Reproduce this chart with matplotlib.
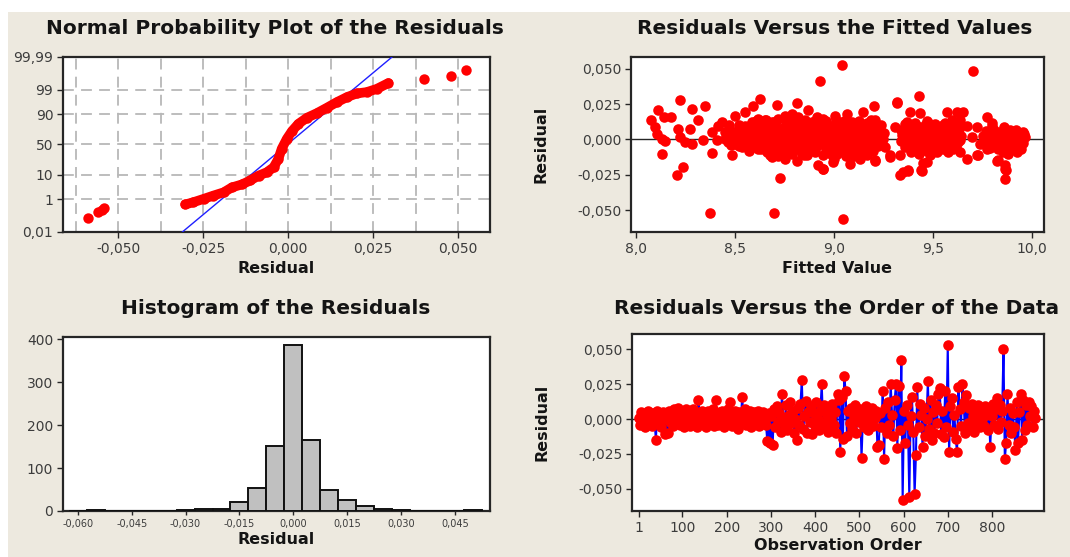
import math
import numpy as np
import matplotlib
matplotlib.use("Agg")
import matplotlib.pyplot as plt
from matplotlib import ticker
from matplotlib.patches import Rectangle

# ---------------------------------------------------------------- data
# Normal probability plot: ordered residuals and plotting percentiles
npp_residual = [-0.0303, -0.0279, -0.0249, -0.0220, -0.0190, -0.0166, -0.0136,
                -0.0112, -0.0087, -0.0063, -0.0043, -0.0029, -0.0019, -0.0004,
                0.0011, 0.0030, 0.0055, 0.0084, 0.0114, 0.0143, 0.0173, 0.0202,
                0.0231, 0.0261, 0.0295]
npp_percent = [0.54, 0.71, 1.04, 1.5, 2.1, 3.4, 4.5, 6.3, 9.3, 11.9, 16.6, 27.0,
               43.0, 59.6, 71.5, 81.0, 87.2, 90.8, 94.1, 96.4, 97.8, 98.5, 98.7,
               99.1, 99.55]
npp_tail_residual = [-0.0589, -0.0559, -0.0547, -0.0541, 0.0400, 0.0479, 0.0523]
npp_tail_percent = [0.094, 0.22, 0.28, 0.33, 99.72, 99.81, 99.92]
fit_mean = -0.0003
fit_sd = 0.0083

# Residuals versus fitted values
fitted_value = [
    8.076, 8.110, 8.143, 8.177, 8.096, 8.104, 8.130, 8.147, 8.222, 8.281,
    8.349, 8.315, 8.273, 8.214, 8.222, 8.248, 8.281, 8.340, 8.383, 8.416,
    8.433, 8.130, 8.239, 8.206, 8.383, 8.484, 8.374, 8.699, 8.728, 8.930,
    8.627, 8.711, 8.812, 8.871, 8.913, 8.593, 8.551, 8.500, 8.450, 8.408,
    8.467, 8.517, 8.551, 8.585, 8.618, 8.652, 8.686, 8.720, 8.753, 8.787,
    8.821, 8.854, 8.888, 8.922, 8.939, 8.939, 8.939, 8.905, 8.863, 8.812,
    8.753, 8.686, 8.661, 8.618, 8.585, 8.534, 8.500, 8.450, 8.652, 8.703,
    8.753, 8.804, 8.854, 8.888, 8.669, 8.736, 8.787, 8.838, 8.888, 8.922,
    8.947, 8.736, 8.821, 8.871, 8.635, 8.602, 8.551,
    8.62, 8.67, 8.72, 8.77, 8.82, 8.87, 8.91, 8.64, 8.69, 8.74, 8.79, 8.84,
    8.90, 8.93, 8.57, 8.52, 8.47,
    9.040, 9.702, 9.048, 9.321, 9.431, 9.205, 8.947, 9.006, 9.065, 9.149,
    9.208, 8.964, 9.031, 9.099, 9.166, 9.234, 8.981, 9.048, 9.116, 9.183,
    9.251, 8.964, 9.031, 9.099, 9.166, 9.225, 8.947, 9.014, 9.082, 9.149,
    8.947, 8.998, 9.082, 9.133, 9.208, 9.284, 9.335, 9.309, 9.368, 9.385,
    9.436, 9.419, 9.487, 9.537, 9.351, 9.419, 9.487, 9.554, 9.605, 9.368,
    9.436, 9.503, 9.571, 9.638, 9.351, 9.377, 9.444, 9.469, 9.487, 9.571,
    9.621, 9.655, 9.596, 9.638, 9.672, 9.723, 9.773, 9.798, 9.840, 9.891,
    9.924, 9.756, 9.807, 9.874, 9.908, 9.697, 9.739, 9.638, 9.672, 9.723,
    9.773, 9.823, 9.864, 9.864, 9.924, 9.891, 9.605, 9.554, 9.520,
    8.97, 9.02, 9.07, 9.12, 9.17, 9.22, 9.00, 9.05, 9.10, 9.15, 9.20, 9.24,
    9.26, 9.36, 9.40, 9.45, 9.50, 9.55, 9.60, 9.63, 9.38, 9.43, 9.47, 9.52,
    9.58, 9.78, 9.82, 9.86, 9.90, 9.94, 9.96, 9.80, 9.88,
    9.857, 9.907, 9.949, 9.958, 9.890, 9.857, 9.924, 9.831, 9.865, 9.873,
    9.730, 9.335, 9.376, 9.440, 9.453, 9.285, 9.208, 9.318,
    # dense band 8.60 - 8.95
    8.605, 8.66, 8.70, 8.76, 8.80, 8.86, 8.905,
    8.615, 8.645, 8.68, 8.71, 8.745, 8.78, 8.815, 8.85, 8.88, 8.92,
    8.60, 8.64, 8.675, 8.705, 8.74, 8.775, 8.81, 8.845, 8.87, 8.91, 8.945,
    8.61, 8.64, 8.68, 8.715, 8.75, 8.785, 8.82, 8.855, 8.895, 8.93,
    8.605, 8.645, 8.68, 8.72, 8.755, 8.79, 8.83, 8.865, 8.90,
    8.63, 8.67, 8.71, 8.745, 8.78, 8.82, 8.86, 8.895,
    8.68, 8.72, 8.79, 8.85,
    # dense band 8.95 - 9.26
    8.96, 9.01, 9.09, 9.13, 9.19,
    8.955, 8.99, 9.035, 9.07, 9.11, 9.145, 9.18, 9.215,
    8.965, 9.00, 9.04, 9.075, 9.11, 9.15, 9.19, 9.23, 9.255,
    8.955, 8.995, 9.03, 9.065, 9.10, 9.135, 9.17, 9.205, 9.24,
    8.97, 9.005, 9.04, 9.08, 9.115, 9.155, 9.19, 9.23,
    8.96, 9.00, 9.04, 9.07, 9.11, 9.15, 9.19,
    8.99, 9.06, 9.12, 9.17,
    # dense band 9.33 - 9.65
    9.36, 9.41, 9.46, 9.51, 9.56, 9.60,
    9.34, 9.38, 9.42, 9.455, 9.49, 9.525, 9.56, 9.60, 9.635,
    9.345, 9.385, 9.425, 9.46, 9.50, 9.535, 9.57, 9.61, 9.645,
    9.34, 9.375, 9.41, 9.45, 9.485, 9.52, 9.555, 9.59, 9.63,
    9.36, 9.40, 9.44, 9.475, 9.51, 9.545, 9.585, 9.62,
    9.39, 9.43, 9.47, 9.50,
    # dense band 9.75 - 9.97
    9.77, 9.81, 9.85, 9.885, 9.92, 9.955,
    9.76, 9.795, 9.83, 9.865, 9.90, 9.935, 9.965,
    9.77, 9.81, 9.845, 9.88, 9.915, 9.95,
    9.79, 9.83, 9.87, 9.91, 9.945,
    # band 8.45 - 8.60
    8.47, 8.52, 8.57, 8.46, 8.50, 8.54, 8.58, 8.455, 8.49, 8.53, 8.57,
    8.48, 8.52, 8.56]
fitted_residual = [
    0.0135, 0.0206, 0.0158, 0.0158, 0.0087, 0.0040, 0.0005, -0.0014, 0.0277, 0.0217,
    0.0241, 0.0135, 0.0076, 0.0076, 0.0017, -0.0019, -0.0031, -0.0007, 0.0052, 0.0099,
    0.0123, -0.0102, -0.0196, -0.0251, -0.0095, -0.0109, -0.0522, -0.0522, -0.0274, 0.0418,
    0.0288, 0.0246, 0.0260, 0.0206, 0.0158, 0.0241, 0.0194, 0.0170, 0.0052, -0.0007,
    -0.0019, 0.0028, 0.0099, 0.0123, 0.0147, 0.0135, 0.0123, 0.0147, 0.0170, 0.0182,
    0.0158, 0.0135, 0.0123, 0.0111, 0.0087, 0.0028, -0.0031, -0.0090, -0.0113, -0.0149,
    -0.0137, -0.0125, -0.0090, -0.0066, -0.0054, -0.0054, -0.0031, 0.0005, 0.0005, 0.0028,
    0.0017, 0.0005, 0.0028, 0.0005, 0.0064, 0.0076, 0.0087, 0.0076, 0.0064, -0.0184,
    -0.0208, -0.0019, -0.0054, -0.0066, 0.0052, 0.0028, 0.0005,
    -0.002, -0.004, 0.004, -0.007, 0.011, 0.009, -0.005, 0.010, 0.000, -0.010, 0.005, -0.010,
    0.004, 0.013, -0.008, 0.007, 0.008,
    0.0530, 0.0489, -0.0563, 0.0260, 0.0305, 0.0241, 0.0147, 0.0170, 0.0182, 0.0194,
    0.0135, 0.0052, 0.0087, 0.0099, 0.0087, 0.0064, 0.0005, 0.0017, 0.0028, 0.0017,
    0.0005, -0.0043, -0.0054, -0.0043, -0.0031, -0.0043, -0.0113, -0.0102, -0.0090, -0.0102,
    -0.0208, -0.0161, -0.0173, -0.0137, -0.0156, -0.0113, -0.0113, 0.0087, 0.0123, 0.0194,
    0.0189, 0.0099, 0.0111, 0.0087, 0.0028, 0.0017, 0.0028, 0.0040, 0.0052, -0.0043,
    -0.0043, -0.0031, -0.0019, -0.0007, -0.0232, -0.0220, -0.0220, -0.0161, -0.0113, 0.0194,
    0.0194, 0.0194, 0.0135, 0.0135, 0.0099, 0.0087, 0.0158, 0.0099, 0.0052, 0.0064,
    0.0028, 0.0028, 0.0005, -0.0019, -0.0043, 0.0017, -0.0031, -0.0090, -0.0137, -0.0113,
    -0.0066, -0.0149, -0.0208, -0.0279, -0.0090, -0.0066, -0.0066, -0.0066, -0.0090,
    0.010, -0.002, 0.006, -0.007, 0.012, -0.001, -0.014, 0.013, -0.012, 0.004, -0.008, 0.010,
    -0.005, 0.007, -0.007, 0.006, -0.006, 0.010, -0.002, 0.008, -0.001, -0.010, 0.013, 0.001,
    -0.009, 0.002, -0.003, 0.009, 0.001, -0.006, 0.004, 0.012, -0.010,
    0.0055, 0.0031, 0.0007, -0.0028, -0.0040, -0.0087, -0.0064, -0.0147, -0.0182, -0.0218,
    -0.0110, -0.0253, -0.0218, -0.0218, -0.0170, -0.0123, -0.0147, 0.0265,
    # dense band 8.60 - 8.95
    0.0130, 0.0135, 0.0125, 0.0130, 0.0140, 0.0125, 0.0130,
    0.0090, 0.0085, 0.0095, 0.0090, 0.0085, 0.0095, 0.0090, 0.0085, 0.0095, 0.0090,
    0.0050, 0.0055, 0.0045, 0.0050, 0.0055, 0.0045, 0.0050, 0.0055, 0.0045, 0.0050, 0.0055,
    0.0010, 0.0005, 0.0015, 0.0010, 0.0005, 0.0015, 0.0010, 0.0005, 0.0015, 0.0010,
    -0.0030, -0.0035, -0.0025, -0.0030, -0.0035, -0.0025, -0.0030, -0.0035, -0.0025,
    -0.0070, -0.0075, -0.0065, -0.0070, -0.0075, -0.0065, -0.0070, -0.0075,
    -0.0110, -0.0115, -0.0105, -0.0110,
    # dense band 8.95 - 9.26
    0.0130, 0.0135, 0.0125, 0.0130, 0.0135,
    0.0090, 0.0085, 0.0095, 0.0090, 0.0085, 0.0095, 0.0090, 0.0085,
    0.0050, 0.0055, 0.0045, 0.0050, 0.0055, 0.0045, 0.0050, 0.0055, 0.0045,
    0.0010, 0.0005, 0.0015, 0.0010, 0.0005, 0.0015, 0.0010, 0.0005, 0.0015,
    -0.0030, -0.0035, -0.0025, -0.0030, -0.0035, -0.0025, -0.0030, -0.0035,
    -0.0070, -0.0075, -0.0065, -0.0070, -0.0075, -0.0065, -0.0070,
    -0.0110, -0.0115, -0.0105, -0.0110,
    # dense band 9.33 - 9.65
    0.0110, 0.0115, 0.0105, 0.0110, 0.0115, 0.0105,
    0.0070, 0.0065, 0.0075, 0.0070, 0.0065, 0.0075, 0.0070, 0.0065, 0.0075,
    0.0030, 0.0035, 0.0025, 0.0030, 0.0035, 0.0025, 0.0030, 0.0035, 0.0025,
    -0.0010, -0.0005, -0.0015, -0.0010, -0.0005, -0.0015, -0.0010, -0.0005, -0.0015,
    -0.0050, -0.0055, -0.0045, -0.0050, -0.0055, -0.0045, -0.0050, -0.0055,
    -0.0090, -0.0095, -0.0085, -0.0090,
    # dense band 9.75 - 9.97
    0.0060, 0.0065, 0.0055, 0.0060, 0.0065, 0.0055,
    0.0020, 0.0025, 0.0015, 0.0020, 0.0025, 0.0015, 0.0020,
    -0.0020, -0.0025, -0.0015, -0.0020, -0.0025, -0.0015,
    -0.0060, -0.0065, -0.0055, -0.0060, -0.0065,
    # band 8.45 - 8.60
    0.0100, 0.0105, 0.0095, 0.0050, 0.0055, 0.0045, 0.0050, 0.0010, 0.0005, 0.0015, 0.0010,
    -0.0040, -0.0045, -0.0035]

# Histogram of the residuals (bin centres, counts)
hist_bin_center = [-0.060, -0.055, -0.050, -0.045, -0.040, -0.035, -0.030, -0.025,
                   -0.020, -0.015, -0.010, -0.005, 0.000, 0.005, 0.010, 0.015,
                   0.020, 0.025, 0.030, 0.035, 0.040, 0.045, 0.050]
hist_count = [1, 3, 0, 0, 0, 0, 3, 4, 5, 21, 53, 152, 387, 166, 48, 26,
              12, 4, 3, 0, 1, 0, 3]
hist_bin_width = 0.005

# Residuals in observation order (every third observation)
order_step = 3
order_residual = [
    0.001, -0.004, 0.005, -0.002, 0.003, -0.006, 0.000, 0.006, -0.003, 0.002,
    -0.005, 0.004, -0.001, -0.015, 0.006, -0.003, 0.002, -0.006, 0.005, 0.000,
    -0.011, 0.003, -0.010, 0.006, -0.002, 0.004, -0.005, 0.007, 0.001, -0.003,
    0.008, -0.004, 0.002, 0.006, -0.006, 0.000, 0.007, -0.002, 0.004, -0.005,
    0.003, 0.007, -0.003, 0.001, -0.006, 0.014, 0.005, -0.001, 0.006, -0.004,
    0.002, -0.006, 0.006, 0.000, -0.003, 0.004, 0.007, -0.005, 0.014, 0.001,
    -0.004, 0.005, -0.001, 0.006, -0.006, 0.003, -0.002, 0.007, 0.000, 0.012,
    -0.005, 0.004, -0.002, 0.006, 0.001, -0.007, 0.005, -0.003, 0.016, 0.002,
    0.007, -0.004, 0.003, -0.001, 0.006, -0.006, 0.002, 0.005, -0.003, 0.000,
    0.006, -0.005, 0.003, -0.002, 0.005, 0.000, -0.004, -0.016, 0.004, -0.017,
    0.002, -0.019, 0.007, -0.006, 0.009, -0.002, 0.004, -0.009, 0.018, 0.001,
    -0.005, 0.010, -0.008, 0.003, 0.012, -0.003, 0.006, -0.010, 0.000, -0.015,
    0.008, -0.004, 0.011, 0.028, -0.007, 0.002, 0.013, -0.010, 0.005, -0.002,
    0.009, -0.011, 0.004, -0.005, 0.012, 0.000, -0.008, 0.006, 0.025, -0.003,
    0.010, -0.006, 0.003, -0.009, 0.007, 0.000, 0.011, -0.004, 0.005, -0.010,
    0.018, 0.014, -0.024, 0.016, -0.014, 0.031, 0.020, -0.012, 0.006, -0.003,
    0.008, -0.007, 0.002, 0.010, -0.010, 0.004, -0.002, 0.007, -0.028, 0.000,
    -0.006, 0.009, 0.003, -0.008, 0.005, -0.002, 0.008, -0.005, 0.001, 0.006,
    -0.020, -0.019, 0.004, -0.006, 0.020, -0.029, 0.008, -0.010, 0.012, -0.004,
    0.025, 0.003, -0.012, 0.014, 0.025, -0.021, 0.024, -0.008, 0.042, -0.058,
    0.006, -0.017, 0.010, -0.004, -0.056, 0.002, 0.016, -0.009, -0.054, -0.026,
    0.023, -0.006, 0.011, 0.003, -0.020, 0.008, -0.012, 0.000, 0.027, -0.007,
    0.014, -0.015, 0.005, -0.010, 0.010, -0.003, 0.018, 0.022, -0.011, 0.006,
    -0.013, 0.020, -0.006, 0.053, -0.024, 0.009, 0.015, -0.009, 0.003, -0.014,
    -0.024, 0.023, 0.007, -0.005, 0.025, 0.012, -0.010, 0.017, -0.003, 0.008,
    -0.007, 0.011, 0.002, -0.009, 0.006, -0.003, 0.010, -0.006, 0.004, 0.000,
    -0.005, 0.009, 0.003, -0.008, 0.006, -0.020, 0.002, 0.011, -0.004, 0.007,
    0.015, -0.007, 0.010, -0.002, 0.006, 0.050, -0.029, -0.017, 0.018, -0.004,
    0.008, -0.010, 0.004, -0.006, -0.022, 0.012, -0.017, 0.005, 0.018, -0.015,
    0.014, -0.008, 0.010, -0.004, 0.012, 0.002, 0.009, -0.006, 0.006, 0.001]

# ---------------------------------------------------------------- helpers
def norm_ppf(p):
    p = np.clip(np.asarray(p, dtype=float), 1e-12, 1 - 1e-12)
    a = [-3.969683028665376e+01, 2.209460984245205e+02, -2.759285104469687e+02,
         1.383577518672690e+02, -3.066479806614716e+01, 2.506628277459239e+00]
    b = [-5.447609879822406e+01, 1.615858368580409e+02, -1.556989798598866e+02,
         6.680131188771972e+01, -1.328068155288572e+01]
    c = [-7.784894002430293e-03, -3.223964580411365e-01, -2.400758277161838e+00,
         -2.549732539343734e+00, 4.374664141464968e+00, 2.938163982698783e+00]
    d = [7.784695709041462e-03, 3.224671290700398e-01, 2.445134137142996e+00,
         3.754408661907416e+00]
    plow = 0.02425
    x = np.empty_like(p)
    lo = p < plow
    hi = p > 1 - plow
    mid = ~(lo | hi)
    q = np.sqrt(-2 * np.log(p[lo]))
    x[lo] = (((((c[0]*q+c[1])*q+c[2])*q+c[3])*q+c[4])*q+c[5]) / \
            ((((d[0]*q+d[1])*q+d[2])*q+d[3])*q+1)
    q = np.sqrt(-2 * np.log(1 - p[hi]))
    x[hi] = -(((((c[0]*q+c[1])*q+c[2])*q+c[3])*q+c[4])*q+c[5]) / \
             ((((d[0]*q+d[1])*q+d[2])*q+d[3])*q+1)
    q = p[mid] - 0.5
    r = q * q
    x[mid] = (((((a[0]*r+a[1])*r+a[2])*r+a[3])*r+a[4])*r+a[5])*q / \
             (((((b[0]*r+b[1])*r+b[2])*r+b[3])*r+b[4])*r+1)
    return x


_cdf = np.vectorize(lambda z: 0.5 * (1.0 + math.erf(z / math.sqrt(2.0))), otypes=[float])


def pct_forward(pct):
    return norm_ppf(np.asarray(pct, dtype=float) / 100.0)


def pct_inverse(z):
    return 100.0 * _cdf(np.asarray(z, dtype=float))


def comma_fmt(decimals):
    def f(v, pos):
        s = f"{v:.{decimals}f}".replace(".", ",")
        if s.startswith("-") and float(v) == 0:
            s = s[1:]
        return s
    return ticker.FuncFormatter(f)


# ---------------------------------------------------------------- style
BG = "#EDE9DF"
TITLE_C = "#141414"
TICK_C = "#3c3c3c"
RED = "#FF0000"
MARKER_S = 58
plt.rcParams["font.family"] = ["DejaVu Sans"]

W, H = 1070, 557
fig = plt.figure(figsize=(W / 100, H / 100), dpi=100, facecolor="white")
fig.patches.append(Rectangle((8 / W, 0), 1 - 8 / W, 1 - 12 / H, transform=fig.transFigure,
                             facecolor=BG, edgecolor="none", zorder=-10))


def add_axes(left, top, right, bottom):
    return fig.add_axes([left / W, 1 - bottom / H, (right - left) / W, (bottom - top) / H])


def style_axes(ax, fs=10):
    for sp in ax.spines.values():
        sp.set_color("#262626")
        sp.set_linewidth(1.6)
    ax.tick_params(direction="out", length=4, width=1, color="#262626",
                   labelcolor=TICK_C, labelsize=fs, pad=3)
    ax.set_facecolor("white")


def title(x, y, text):
    fig.text(x / W, 1 - y / H, text, ha="center", va="center", fontsize=14.5,
             fontweight="bold", color=TITLE_C)


def label_kw():
    return dict(fontsize=11.5, fontweight="bold", color=TITLE_C)


# ---------------------------------------------------------------- normal probability plot
ax1 = add_axes(63, 57, 490, 232)
style_axes(ax1)
ax1.set_yscale("function", functions=(pct_forward, pct_inverse))
ax1.set_ylim(0.01, 99.99)
ax1.set_xlim(-0.0663, 0.0594)
pct_ticks = [0.01, 1, 10, 50, 90, 99, 99.99]
ax1.yaxis.set_major_locator(ticker.FixedLocator(pct_ticks))
ax1.yaxis.set_major_formatter(ticker.FixedFormatter(["0,01", "1", "10", "50", "90", "99", "99,99"]))
ax1.yaxis.set_minor_locator(ticker.NullLocator())
ax1.xaxis.set_major_locator(ticker.FixedLocator([-0.05, -0.025, 0.0, 0.025, 0.05]))
ax1.xaxis.set_minor_locator(ticker.FixedLocator([-0.0625, -0.0375, -0.0125, 0.0125, 0.0375]))
ax1.xaxis.set_major_formatter(comma_fmt(3))
ax1.tick_params(axis="x", which="minor", length=0)
ax1.grid(True, which="both", axis="x", color="#b8b8b8", linestyle=(0, (6, 4)), linewidth=1.3)
ax1.grid(True, which="major", axis="y", color="#b8b8b8", linestyle=(0, (6, 4)), linewidth=1.3)
ax1.set_axisbelow(True)

z_line = np.linspace(-4.2, 4.2, 50)
ax1.plot(fit_mean + fit_sd * z_line, pct_inverse(z_line), color="#1f1fff", lw=1.0, zorder=3)
ax1.plot(npp_residual, npp_percent, color=RED, lw=7, solid_capstyle="round",
         marker="o", ms=7.5, markeredgewidth=0, zorder=4)
ax1.plot(npp_tail_residual, npp_tail_percent, linestyle="none", color=RED,
         marker="o", ms=7.5, markeredgewidth=0, zorder=4)
ax1.set_xlabel("Residual", labelpad=4, **label_kw())
title(275, 28, "Normal Probability Plot of the Residuals")

# ---------------------------------------------------------------- residuals vs fitted
ax2 = add_axes(631, 57, 1044, 232)
style_axes(ax2)
ax2.set_xlim(7.975, 10.063)
ax2.set_ylim(-0.0656, 0.0585)
ax2.xaxis.set_major_locator(ticker.FixedLocator([8.0, 8.5, 9.0, 9.5, 10.0]))
ax2.xaxis.set_major_formatter(comma_fmt(1))
ax2.yaxis.set_major_locator(ticker.FixedLocator([-0.05, -0.025, 0.0, 0.025, 0.05]))
ax2.yaxis.set_major_formatter(comma_fmt(3))
ax2.axhline(0, color="#262626", lw=1.0, zorder=1)
ax2.scatter(fitted_value, fitted_residual, s=MARKER_S, color=RED, linewidths=0, zorder=3)
ax2.set_xlabel("Fitted Value", labelpad=4, **label_kw())
ax2.set_ylabel("Residual", **label_kw())
ax2.yaxis.set_label_coords(-0.2, 0.5)
title(835, 28, "Residuals Versus the Fitted Values")

# ---------------------------------------------------------------- histogram
ax3 = add_axes(63, 337, 490, 511)
style_axes(ax3)
ax3.bar(hist_bin_center, hist_count, width=hist_bin_width, color="#c0c0c0",
        edgecolor="#111111", linewidth=1.4, zorder=3)
ax3.set_xlim(-0.0641, 0.0547)
ax3.set_ylim(0, 404.7)
ax3.yaxis.set_major_locator(ticker.FixedLocator([0, 100, 200, 300, 400]))
ax3.xaxis.set_major_locator(ticker.FixedLocator([-0.06, -0.045, -0.03, -0.015, 0.0, 0.015, 0.03, 0.045]))
ax3.xaxis.set_major_formatter(comma_fmt(3))
ax3.tick_params(axis="x", labelsize=7, length=3)
ax3.set_xlabel("Residual", labelpad=2, **label_kw())
title(276, 308, "Histogram of the Residuals")

# ---------------------------------------------------------------- residuals vs order
ax4 = add_axes(632, 334, 1044, 511)
style_axes(ax4)
order_index = np.arange(1, 1 + order_step * len(order_residual), order_step)
ax4.set_xlim(-14, 917.6)
ax4.set_ylim(-0.066, 0.061)
ax4.xaxis.set_major_locator(ticker.FixedLocator([1, 100, 200, 300, 400, 500, 600, 700, 800]))
ax4.yaxis.set_major_locator(ticker.FixedLocator([-0.05, -0.025, 0.0, 0.025, 0.05]))
ax4.yaxis.set_major_formatter(comma_fmt(3))
ax4.axhline(0, color="#262626", lw=1.0, zorder=1)
ax4.plot(order_index, order_residual, color="#0000ff", lw=1.5, zorder=2)
ax4.scatter(order_index, order_residual, s=MARKER_S, color=RED, linewidths=0, zorder=3)
ax4.set_xlabel("Observation Order", labelpad=2, **label_kw())
ax4.set_ylabel("Residual", **label_kw())
ax4.yaxis.set_label_coords(-0.2, 0.5)
title(837, 308, "Residuals Versus the Order of the Data")

fig.savefig("out.png", dpi=100, facecolor=fig.get_facecolor())
